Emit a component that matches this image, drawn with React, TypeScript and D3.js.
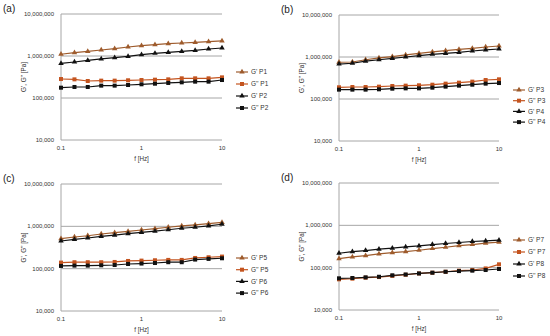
import * as d3 from "d3";

// frequency sweep [Hz]
const freq = [0.1, 0.147, 0.215, 0.316, 0.464, 0.681, 1, 1.47, 2.15, 3.16, 4.64, 6.81, 10];

// storage (G') and loss (G'') moduli [Pa]
const gP1 = [1.10e6, 1.20e6, 1.29e6, 1.39e6, 1.50e6, 1.64e6, 1.76e6, 1.86e6, 1.97e6, 2.04e6, 2.11e6, 2.19e6, 2.28e6];
const gdP1 = [2.83e5, 2.78e5, 2.54e5, 2.59e5, 2.59e5, 2.64e5, 2.68e5, 2.73e5, 2.78e5, 2.94e5, 2.94e5, 2.94e5, 3.10e5];
const gP2 = [6.7e5, 7.2e5, 7.9e5, 8.5e5, 9.1e5, 9.8e5, 1.08e6, 1.16e6, 1.22e6, 1.29e6, 1.36e6, 1.47e6, 1.55e6];
const gdP2 = [1.76e5, 1.83e5, 1.83e5, 1.97e5, 1.97e5, 2.04e5, 2.12e5, 2.19e5, 2.28e5, 2.36e5, 2.45e5, 2.45e5, 2.68e5];

const gP3 = [7.5e5, 7.6e5, 8.6e5, 9.5e5, 1.02e6, 1.12e6, 1.22e6, 1.32e6, 1.42e6, 1.52e6, 1.61e6, 1.73e6, 1.83e6];
const gdP3 = [1.90e5, 1.93e5, 1.93e5, 1.97e5, 2.04e5, 2.08e5, 2.12e5, 2.19e5, 2.32e5, 2.45e5, 2.59e5, 2.83e5, 2.94e5];
const gP4 = [6.8e5, 7.1e5, 8.0e5, 8.6e5, 9.3e5, 1.0e6, 1.08e6, 1.16e6, 1.22e6, 1.29e6, 1.39e6, 1.47e6, 1.55e6];
const gdP4 = [1.67e5, 1.67e5, 1.67e5, 1.70e5, 1.76e5, 1.79e5, 1.79e5, 1.86e5, 1.97e5, 2.08e5, 2.19e5, 2.32e5, 2.40e5];

const gP5 = [5.1e5, 5.6e5, 6.0e5, 6.6e5, 7.1e5, 7.6e5, 8.2e5, 8.8e5, 9.5e5, 1.02e6, 1.08e6, 1.16e6, 1.24e6];
const gdP5 = [1.39e5, 1.42e5, 1.42e5, 1.42e5, 1.44e5, 1.52e5, 1.55e5, 1.58e5, 1.61e5, 1.61e5, 1.79e5, 1.86e5, 1.93e5];
const gP6 = [4.5e5, 4.9e5, 5.3e5, 5.8e5, 6.2e5, 6.7e5, 7.2e5, 7.7e5, 8.3e5, 9.0e5, 9.5e5, 1.02e6, 1.12e6];
const gdP6 = [1.16e5, 1.18e5, 1.18e5, 1.20e5, 1.22e5, 1.29e5, 1.32e5, 1.36e5, 1.42e5, 1.42e5, 1.64e5, 1.70e5, 1.76e5];

const gP7 = [1.63e5, 1.79e5, 1.93e5, 2.11e5, 2.27e5, 2.40e5, 2.58e5, 2.83e5, 3.04e5, 3.33e5, 3.52e5, 3.79e5, 4.0e5];
const gdP7 = [5.3e4, 5.5e4, 5.8e4, 6.0e4, 6.4e4, 6.8e4, 7.3e4, 7.6e4, 8.0e4, 8.5e4, 8.8e4, 9.6e4, 1.20e5];
const gP8 = [2.19e5, 2.40e5, 2.54e5, 2.73e5, 2.88e5, 3.10e5, 3.27e5, 3.52e5, 3.72e5, 3.93e5, 4.15e5, 4.31e5, 4.47e5];
const gdP8 = [5.6e4, 5.7e4, 5.9e4, 6.1e4, 6.6e4, 6.9e4, 7.3e4, 7.6e4, 8.0e4, 8.3e4, 8.5e4, 8.8e4, 9.3e4];

const yTicks = [10000, 100000, 1000000, 10000000];
const xTicks = [0.1, 1, 10];

const BROWN = "#9e5b2c";
const ORANGE = "#c4541f";
const BLACK = "#111";

type Series = { name: string; values: number[]; color: string; shape: "tri" | "sq" };

const panels = [
  {
    tag: "(a)", x0: 61, x1: 222, y0: 14, y1: 140, legX: 236, legY: 72, legStep: 12,
    series: [
      { name: "G' P1", values: gP1, color: BROWN, shape: "tri" },
      { name: "G'' P1", values: gdP1, color: ORANGE, shape: "sq" },
      { name: "G' P2", values: gP2, color: BLACK, shape: "tri" },
      { name: "G'' P2", values: gdP2, color: BLACK, shape: "sq" },
    ] as Series[],
  },
  {
    tag: "(b)", x0: 339, x1: 499, y0: 15, y1: 141, legX: 513, legY: 90, legStep: 10.7,
    series: [
      { name: "G' P3", values: gP3, color: BROWN, shape: "tri" },
      { name: "G'' P3", values: gdP3, color: ORANGE, shape: "sq" },
      { name: "G' P4", values: gP4, color: BLACK, shape: "tri" },
      { name: "G'' P4", values: gdP4, color: BLACK, shape: "sq" },
    ] as Series[],
  },
  {
    tag: "(c)", x0: 61, x1: 222, y0: 184, y1: 311, legX: 236, legY: 258, legStep: 11.7,
    series: [
      { name: "G' P5", values: gP5, color: BROWN, shape: "tri" },
      { name: "G'' P5", values: gdP5, color: ORANGE, shape: "sq" },
      { name: "G' P6", values: gP6, color: BLACK, shape: "tri" },
      { name: "G'' P6", values: gdP6, color: BLACK, shape: "sq" },
    ] as Series[],
  },
  {
    tag: "(d)", x0: 339, x1: 499, y0: 183, y1: 310, legX: 513, legY: 240, legStep: 12,
    series: [
      { name: "G' P7", values: gP7, color: BROWN, shape: "tri" },
      { name: "G'' P7", values: gdP7, color: ORANGE, shape: "sq" },
      { name: "G' P8", values: gP8, color: BLACK, shape: "tri" },
      { name: "G'' P8", values: gdP8, color: BLACK, shape: "sq" },
    ] as Series[],
  },
];

const fmt = d3.format(",");

const Marker = ({ x, y, s }: { x: number; y: number; s: Series }) =>
  s.shape === "tri" ? (
    <path d={d3.symbol(d3.symbolTriangle, 13)()!} transform={`translate(${x},${y})`} fill={s.color} />
  ) : (
    <rect x={x - 2} y={y - 2} width={4} height={4} fill={s.color} />
  );

const Panel = ({ p }: { p: (typeof panels)[number] }) => {
  const x = d3.scaleLog().domain([0.1, 10]).range([p.x0, p.x1]);
  const y = d3.scaleLog().domain([1e4, 1e7]).range([p.y1, p.y0]);
  const line = d3
    .line<number>()
    .x((_, i) => x(freq[i]))
    .y((d) => y(d));

  return (
    <g fontFamily="'Liberation Sans', Arial, sans-serif">
      <text x={p.x0 - 58} y={p.y0 - 2} fontSize={10} fill="#222">
        {p.tag}
      </text>
      {yTicks.map((t) => (
        <g key={t}>
          <line x1={p.x0} x2={p.x1} y1={y(t)} y2={y(t)} stroke="#a6a6a6" strokeWidth={1} />
          <text x={p.x0 - 7} y={y(t) + 2} fontSize={6} textAnchor="end" fill="#333">
            {fmt(t)}
          </text>
        </g>
      ))}
      <line x1={p.x0} x2={p.x0} y1={p.y0} y2={p.y1} stroke="#a6a6a6" />
      {xTicks.map((t) => (
        <text key={t} x={x(t)} y={p.y1 + 10} fontSize={6} textAnchor="middle" fill="#333">
          {t}
        </text>
      ))}
      <text x={(p.x0 + p.x1) / 2} y={p.y1 + 21} fontSize={6.3} textAnchor="middle" fill="#333">
        f [Hz]
      </text>
      <text
        transform={`translate(${p.x0 - 35},${(p.y0 + p.y1) / 2}) rotate(-90)`}
        fontSize={6.3}
        textAnchor="middle"
        fill="#333"
      >
        G', G'' [Pa]
      </text>
      {p.series.map((s) => (
        <g key={s.name}>
          <path d={line(s.values)!} fill="none" stroke={s.color} strokeWidth={1.2} />
          {s.values.map((v, i) => (
            <Marker key={i} x={x(freq[i])} y={y(v)} s={s} />
          ))}
        </g>
      ))}
      {p.series.map((s, i) => {
        const ly = p.legY + i * p.legStep;
        return (
          <g key={"leg" + s.name}>
            <line x1={p.legX} x2={p.legX + 12} y1={ly} y2={ly} stroke={s.color} strokeWidth={1.2} />
            <Marker x={p.legX + 6} y={ly} s={s} />
            <text x={p.legX + 15} y={ly + 2.2} fontSize={6.5} fill="#333">
              {s.name}
            </text>
          </g>
        );
      })}
    </g>
  );
};

export default function App() {
  return (
    <div style={{ position: "absolute", left: 0, top: 0 }}>
      <svg width={550} height={336} viewBox="0 0 550 336" style={{ display: "block", background: "#fff" }}>
        {panels.map((p) => (
          <Panel key={p.tag} p={p} />
        ))}
      </svg>
    </div>
  );
}
